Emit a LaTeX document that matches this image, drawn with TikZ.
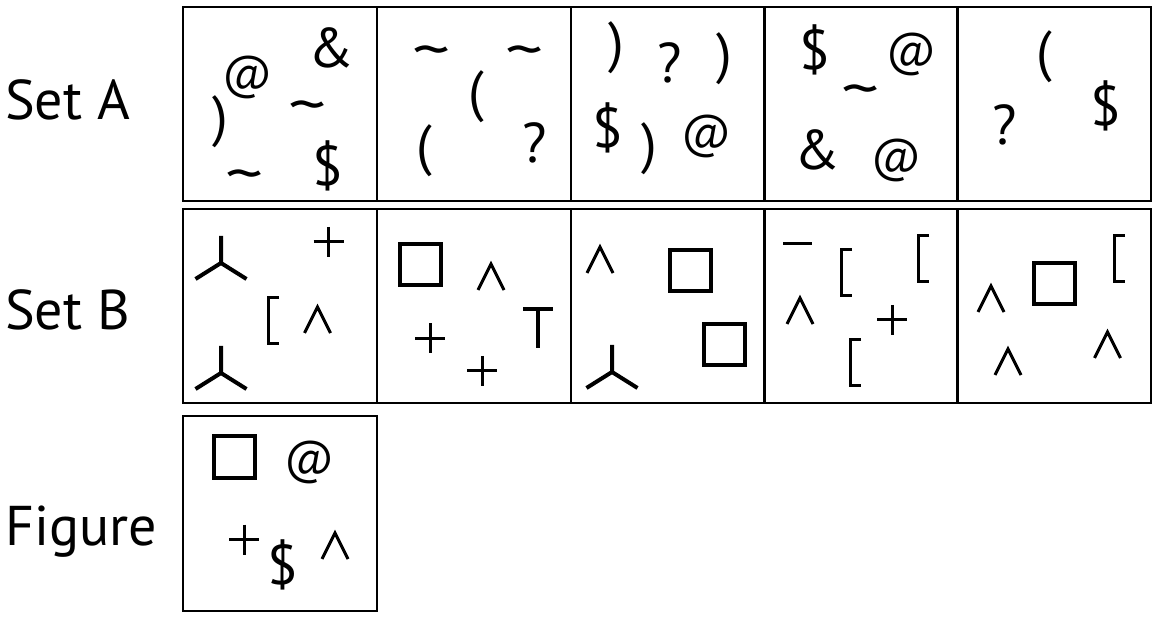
\documentclass[tikz,border=0pt]{standalone}
\usepackage{fontspec}
\setmainfont{PT Sans}
\newcommand{\atsign}{\scalebox{0.84}{@}}
\newcommand{\wave}{\scalebox{1.35}[1.05]{\textasciitilde}}
\begin{document}
\begin{tikzpicture}[x=1pt, y=-1pt, font=\fontsize{56}{64}\selectfont]
    \tikzstyle{cell}=[draw=black, line width=2pt, minimum width=194pt, minimum height=194pt, inner sep=0pt]
    \tikzstyle{glyph}=[inner sep=0pt]
    \tikzstyle{rowname}=[anchor=base west, inner sep=0pt]
    \tikzstyle{stroke}=[black, line width=3pt]
    \tikzstyle{heavy}=[black, line width=4pt]
    \tikzset{
      sq/.pic={\draw[heavy] (-20.5,-20.5) rectangle (20.5,20.5);},
      tripod/.pic={\draw[heavy] (0,-27) -- (0,0) (-25.5,16) -- (0,0) -- (25.5,16);},
      caret/.pic={\draw[stroke] (-13,26) -- (0,0) -- (13,26);},
      cross/.pic={\draw[stroke] (-15,0) -- (15,0) (0,-15) -- (0,15);},
      brack/.pic={\draw[stroke] (11,0) -- (0,0) -- (0,46) -- (11,46);}
    }
    \useasboundingbox (0,0) rectangle (1157,617);

    % row names
    \node[rowname] (nameA) at (5,120) {Set A};
    \node[rowname] (nameB) at (5,330) {Set B};
    \node[rowname] (nameF) at (5,545) {Figure};

    % set A
    \node[cell] (a1) at (280,104) {};
    \node[cell] (a2) at (474,104) {};
    \node[cell] (a3) at (667.5,104) {};
    \node[cell] (a4) at (860.5,104) {};
    \node[cell] (a5) at (1054,104) {};

    \node[glyph] (a1at) at (248,77) {\atsign};
    \node[glyph] (a1amp) at (331,48) {\&};
    \node[glyph] (a1par) at (220,122) {)};
    \node[glyph] (a1tila) at (308,113) {\wave};
    \node[glyph] (a1dol) at (328,166) {\$};
    \node[glyph] (a1tilb) at (245,182) {\wave};

    \node[glyph] (a2tila) at (432,58) {\wave};
    \node[glyph] (a2tilb) at (525,58) {\wave};
    \node[glyph] (a2para) at (476,97) {(};
    \node[glyph] (a2parb) at (424,151) {(};
    \node[glyph] (a2q) at (535,143) {?};

    \node[glyph] (a3para) at (616,48) {)};
    \node[glyph] (a3q) at (670,63) {?};
    \node[glyph] (a3parb) at (724,59) {)};
    \node[glyph] (a3dol) at (608,128) {\$};
    \node[glyph] (a3parc) at (649,149) {)};
    \node[glyph] (a3at) at (707,136) {\atsign};

    \node[glyph] (a4dol) at (815,50) {\$};
    \node[glyph] (a4ata) at (912,54) {\atsign};
    \node[glyph] (a4til) at (861,97) {\wave};
    \node[glyph] (a4amp) at (817,150) {\&};
    \node[glyph] (a4atb) at (897,160) {\atsign};

    \node[glyph] (a5par) at (1044,57) {(};
    \node[glyph] (a5q) at (1005,125) {?};
    \node[glyph] (a5dol) at (1106,106) {\$};

    % set B
    \node[cell] (b1) at (280,306.5) {};
    \node[cell] (b2) at (474,306.5) {};
    \node[cell] (b3) at (667.5,306.5) {};
    \node[cell] (b4) at (860.5,306.5) {};
    \node[cell] (b5) at (1054,306.5) {};

    \pic at (221,263) {tripod};
    \pic at (221,373) {tripod};
    \pic at (328.5,242) {cross};
    \pic at (268,298) {brack};
    \pic at (317.5,307) {caret};

    \pic at (420.5,264.5) {sq};
    \pic at (491,264) {caret};
    \draw[heavy] (523,309.5) -- (553,309.5) (538,309.5) -- (538,348);
    \pic at (430,338.5) {cross};
    \pic at (482,371) {cross};

    \pic at (600,247) {caret};
    \pic at (690,270.5) {sq};
    \pic at (724.5,344.5) {sq};
    \pic at (612,372) {tripod};

    \draw[stroke] (783,244) -- (812,244);
    \pic at (841,250) {brack};
    \pic at (918,236) {brack};
    \pic at (800,298) {caret};
    \pic at (892,320) {cross};
    \pic at (850,340) {brack};

    \pic at (1114,236) {brack};
    \pic at (1054,283.5) {sq};
    \pic at (991,286) {caret};
    \pic at (1008,349) {caret};
    \pic at (1107.5,332) {caret};

    % figure
    \node[cell] (fig) at (280,513.5) {};
    \pic at (234,457) {sq};
    \node[glyph] (figat) at (310,462) {\atsign};
    \pic at (244,539.5) {cross};
    \node[glyph] (figdol) at (283,565) {\$};
    \pic at (335,533) {caret};
\end{tikzpicture}
\end{document}
